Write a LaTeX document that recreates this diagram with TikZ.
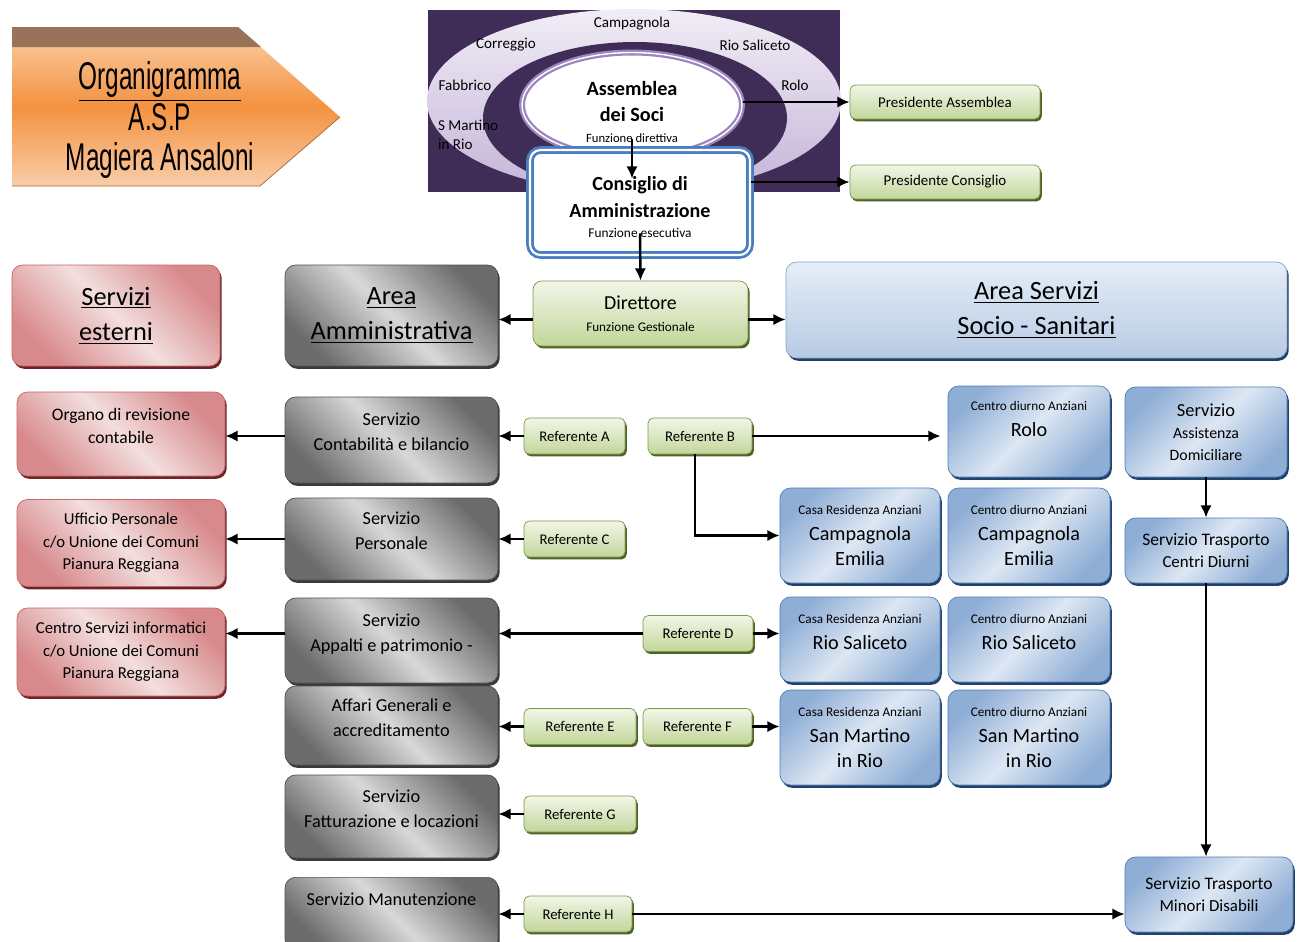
\documentclass[tikz,border=0pt]{standalone}
\usepackage{fontspec}
\setmainfont{Carlito}
\newfontfamily\titlefont[FakeStretch=0.63]{Liberation Sans}
\usetikzlibrary{positioning,arrows.meta,shadows,shapes.geometric}
\definecolor{bgpurple}{HTML}{3F2D58}
\definecolor{ringtop}{HTML}{F1EDF6}
\definecolor{ringbot}{HTML}{C4B4D8}
\definecolor{asmline}{HTML}{9C86BE}
\definecolor{consline}{HTML}{4A7EC0}
\definecolor{orangetop}{HTML}{FAD0AA}
\definecolor{orangemid}{HTML}{F39240}
\definecolor{orangebot}{HTML}{F9CDA8}
\definecolor{bevelbrown}{HTML}{98735A}
\definecolor{pinkdark}{HTML}{D7898B}
\definecolor{pinklight}{HTML}{F3DEDE}
\definecolor{pinkline}{HTML}{C86466}
\definecolor{pinkshadow}{HTML}{6E2426}
\definecolor{graydark}{HTML}{6C6C6C}
\definecolor{graylight}{HTML}{D8D8D8}
\definecolor{grayline}{HTML}{505050}
\definecolor{grayshadow}{HTML}{3A3A3A}
\definecolor{greentop}{HTML}{F2F6E8}
\definecolor{greenbot}{HTML}{C2D69A}
\definecolor{greenline}{HTML}{7B9A45}
\definecolor{greenshadow}{HTML}{4E6128}
\definecolor{bluedark}{HTML}{8FAED6}
\definecolor{bluelight}{HTML}{DDE7F3}
\definecolor{blueline}{HTML}{4F7FB9}
\definecolor{blueshadow}{HTML}{22416A}
\definecolor{areatop}{HTML}{E5EDF7}
\definecolor{areabot}{HTML}{B7CBE4}
\newcommand{\fhead}{\fontsize{7.5}{9.5}\selectfont}
\newcommand{\fbig}{\fontsize{11.5}{14.5}\selectfont}

\begin{document}
\begin{tikzpicture}[
    x=0.02cm,y=-0.02cm,
    arr/.style={-{Latex[length=7pt,width=6.5pt]},line width=1.4pt,black},
    box/.style={rectangle,rounded corners=6pt,align=center,inner sep=2pt},
    lift/.style={text depth=0.32cm},
    pinkbox/.style={box,draw=pinkline,top color=pinkdark,bottom color=pinkdark,
      middle color=pinklight,shading angle=135,minimum width=4.16cm,
      drop shadow={shadow xshift=1pt,shadow yshift=-1.6pt,fill=pinkshadow,opacity=1},
      font=\fontsize{10}{13.5}\selectfont},
    graybox/.style={box,draw=grayline,top color=graydark,bottom color=graydark,
      middle color=graylight,shading angle=135,minimum width=4.26cm,
      drop shadow={shadow xshift=1pt,shadow yshift=-1.6pt,fill=grayshadow,opacity=1},
      font=\fontsize{10.4}{14.2}\selectfont},
    refbox/.style={box,rounded corners=3pt,draw=greenline,top color=greentop,
      bottom color=greenbot,minimum height=0.72cm,
      drop shadow={shadow xshift=1pt,shadow yshift=-1.4pt,fill=greenshadow,opacity=1},
      font=\fontsize{8.4}{10}\selectfont},
    bluebox/.style={box,draw=blueline,top color=bluedark,bottom color=bluedark,
      middle color=bluelight,shading angle=45,
      drop shadow={shadow xshift=1pt,shadow yshift=-1.6pt,fill=blueshadow,opacity=1},
      font=\fbig},
    areatitle/.style={font=\fontsize{15}{20}\selectfont},
    ringlabel/.style={font=\fontsize{8.6}{11}\selectfont,inner sep=1pt},
  ]
  \fill[white] (0,0) rectangle (1300,941);
  \useasboundingbox (0,0) rectangle (1300,941);

  % titolo
  \shade[top color=orangetop,bottom color=orangebot,middle color=orangemid]
    (12,27) -- (238,27) -- (340,117) -- (260,186) -- (12,186) -- cycle;
  \fill[bevelbrown] (12,27) -- (238,27) -- (261,47) -- (12,47) -- cycle;
  \draw[orangemid!70!black,thin] (340,117) -- (260,186) -- (12,186);
  \node[font=\titlefont\fontsize{22}{22.8}\selectfont,align=center] (titolo) at (160,120)
    {\underline{Organigramma}\\A.S.P\\Magiera Ansaloni};

  % assemblea
  \fill[bgpurple] (428,10) rectangle (840,192);
  \shade[top color=ringtop,bottom color=ringbot] (634,101) ellipse (207 and 92);
  \fill[bgpurple] (635,118) ellipse (152 and 76);
  \node[ellipse,fill=white,draw=asmline,line width=1.3pt,double=white,double distance=0.8pt,
    minimum width=4.4cm,minimum height=2.1cm] (asm) at (632,105) {};
  \node[align=center,font=\bfseries\fontsize{11.5}{14.8}\selectfont] (asmtxt) at (632,112)
    {Assemblea\\dei Soci\\[-3pt]{\mdseries\fontsize{7.2}{9}\selectfont Funzione direttiva}};
  \node[ringlabel] (lcamp) at (632,24) {Campagnola};
  \node[ringlabel] (lcorr) at (506,45) {Correggio};
  \node[ringlabel] (lrio) at (755,45) {Rio Saliceto};
  \node[ringlabel] (lfab) at (465,85) {Fabbrico};
  \node[ringlabel] (lrolo) at (795,85) {Rolo};
  \node[ringlabel,align=left,anchor=west] (lsm) at (436,135) {S Martino\\in Rio};

  \node[box,fill=white,draw=consline,line width=1.6pt,double=white,double distance=1.2pt,
    minimum width=4.4cm,minimum height=2.1cm,
    drop shadow={shadow xshift=1pt,shadow yshift=-1.6pt,fill=blueshadow,opacity=1},
    font=\bfseries\fontsize{11.4}{15.2}\selectfont] (cons) at (640,202.5)
    {\rule{0pt}{13pt}Consiglio di\\Amministrazione\\[-4pt]{\mdseries\fontsize{7.6}{9}\selectfont Funzione esecutiva}};

  \node[refbox,minimum width=3.8cm,minimum height=0.68cm,font=\fontsize{8.5}{10}\selectfont]
    (presA) at (945,102) {Presidente Assemblea};
  \node[refbox,minimum width=3.8cm,minimum height=0.68cm,font=\fontsize{8.5}{10}\selectfont]
    (presC) at (945,182) {Presidente Consiglio};
  \node[refbox,rounded corners=5pt,minimum width=4.3cm,minimum height=1.3cm,
    font=\fontsize{11.3}{12.5}\selectfont] (dir) at (640.5,313.5)
    {Direttore\\{\fontsize{7.5}{9}\selectfont Funzione Gestionale}};

  % aree
  \node[pinkbox,areatitle,minimum height=2.02cm] (sest) at (116,315.5)
    {\underline{Servizi}\\\underline{esterni}};
  \node[graybox,areatitle,minimum height=2.02cm] (aam) at (391.5,315.5)
    {\underline{Area}\\\underline{Amministrativa}};
  \node[box,draw=blueline!70,top color=areatop,bottom color=areabot,areatitle,
    minimum width=10.02cm,minimum height=1.92cm,
    drop shadow={shadow xshift=1pt,shadow yshift=-1.6pt,fill=blueshadow,opacity=1}]
    (ass) at (1036.5,310) {\underline{Area Servizi}\\\underline{Socio - Sanitari}};

  % servizi esterni
  \node[pinkbox,lift,minimum height=1.68cm] (org) at (121,434) {Organo di revisione\\contabile};
  \node[pinkbox,minimum height=1.74cm,font=\fontsize{9.5}{12.8}\selectfont] (uff) at (121,543)
    {Ufficio Personale\\c/o Unione dei Comuni\\Pianura Reggiana};
  \node[pinkbox,minimum height=1.76cm,font=\fontsize{9.5}{12.8}\selectfont] (csi) at (121,652)
    {Centro Servizi informatici\\c/o Unione dei Comuni\\Pianura Reggiana};

  % area amministrativa
  \node[graybox,lift,minimum height=1.72cm] (scb) at (391.5,440) {Servizio\\Contabilità e bilancio};
  \node[graybox,lift,minimum height=1.64cm] (spe) at (391.5,539) {Servizio\\Personale};
  \node[graybox,lift,minimum height=1.70cm] (sap) at (391.5,640.5) {Servizio\\Appalti e patrimonio -};
  \node[graybox,lift,minimum height=1.58cm] (sag) at (391.5,725.5) {Affari Generali e\\accreditamento};
  \node[graybox,lift,minimum height=1.66cm] (sfl) at (391.5,816.5) {Servizio\\Fatturazione e locazioni};
  \node[graybox,anchor=north,inner ysep=0pt,text height=0.56cm,text depth=0.9cm] (sma)
    at (391.5,877) {Servizio Manutenzione};

  % referenti
  \node[refbox,minimum width=2.02cm] (refA) at (574.5,436) {Referente A};
  \node[refbox,minimum width=2.08cm] (refB) at (700,436) {Referente B};
  \node[refbox,minimum width=2.02cm] (refC) at (574.5,539) {Referente C};
  \node[refbox,minimum width=2.2cm] (refD) at (698,633.5) {Referente D};
  \node[refbox,minimum width=2.24cm] (refE) at (580,726.5) {Referente E};
  \node[refbox,minimum width=2.18cm] (refF) at (697.5,726.5) {Referente F};
  \node[refbox,minimum width=2.24cm] (refG) at (580,814) {Referente G};
  \node[refbox,minimum width=2.16cm] (refH) at (578,914) {Referente H};

  % area servizi socio-sanitari
  \node[bluebox,minimum width=3.24cm,minimum height=1.82cm] (cdrolo) at (1029,431.5)
    {{\fhead Centro diurno Anziani}\\Rolo\\\mbox{}};
  \node[bluebox,minimum width=3.24cm,minimum height=1.8cm,font=\fontsize{9}{12.5}\selectfont]
    (sad) at (1206,432) {{\fontsize{10.5}{12}\selectfont Servizio}\\Assistenza\\Domiciliare};
  \node[bluebox,minimum width=3.2cm,minimum height=1.9cm] (cracamp) at (860,535.5)
    {{\fhead Casa Residenza Anziani}\\Campagnola\\Emilia};
  \node[bluebox,minimum width=3.24cm,minimum height=1.9cm] (cdcamp) at (1029,535.5)
    {{\fhead Centro diurno Anziani}\\Campagnola\\Emilia};
  \node[bluebox,minimum width=3.24cm,minimum height=1.3cm,font=\fontsize{9.6}{12.8}\selectfont]
    (stcd) at (1206,550.5) {{\fontsize{10}{12}\selectfont Servizio Trasporto}\\Centri Diurni};
  \node[bluebox,minimum width=3.2cm,minimum height=1.7cm] (crario) at (860,639.5)
    {{\fhead Casa Residenza Anziani}\\Rio Saliceto\\[-6pt]\mbox{}};
  \node[bluebox,minimum width=3.24cm,minimum height=1.7cm] (cdrio) at (1029,639.5)
    {{\fhead Centro diurno Anziani}\\Rio Saliceto\\[-6pt]\mbox{}};
  \node[bluebox,minimum width=3.2cm,minimum height=1.9cm] (crasm) at (860,737.5)
    {{\fhead Casa Residenza Anziani}\\San Martino\\in Rio};
  \node[bluebox,minimum width=3.24cm,minimum height=1.9cm] (cdsm) at (1029,737.5)
    {{\fhead Centro diurno Anziani}\\San Martino\\in Rio};
  \node[bluebox,minimum width=3.36cm,minimum height=1.5cm,font=\fontsize{9.6}{12.8}\selectfont]
    (stmd) at (1209,894.5) {{\fontsize{10}{12}\selectfont Servizio Trasporto}\\Minori Disabili};

  % collegamenti
  \draw[arr] (asm.east |- presA.west) -- (presA.west);
  \draw[arr] ([yshift=0.4cm]asm.south) -- ([yshift=-0.6cm]asm.south |- cons.north);
  \draw[arr] (cons.east |- presC.west) -- (presC.west);
  \draw[arr] ([yshift=0.46cm]cons.south) -- (dir.north);
  \draw[arr] ([yshift=-0.12cm]dir.west) -- ([yshift=-0.12cm]dir.west -| aam.east);
  \draw[arr] ([yshift=-0.12cm]dir.east) -- ([yshift=-0.12cm]dir.east -| ass.west);
  \draw[arr] (scb.west |- refA.west) -- (org.east |- refA.west);
  \draw[arr] (spe.west) -- (spe.west -| uff.east);
  \draw[arr] (refD.west -| sap.west) -- (refD.west -| csi.east);
  \draw[arr] (refA.west) -- (refA.west -| scb.east);
  \draw[arr] (refC.west) -- (refC.west -| spe.east);
  \draw[arr] (refD.west) -- (refD.west -| sap.east);
  \draw[arr] (refE.west) -- (refE.west -| sag.east);
  \draw[arr] (refG.west) -- (refG.west -| sfl.east);
  \draw[arr] (refH.west) -- (refH.west -| sma.east);
  \draw[arr,shorten >=4pt] (refB.east) -- (refB.east -| cdrolo.west);
  \draw[arr] ([xshift=-0.1cm]refB.south) |- (cracamp.west);
  \draw[arr] (refD.east) -- (refD.east -| crario.west);
  \draw[arr] (refF.east) -- (refF.east -| crasm.west);
  \draw[arr] (refH.east) -- (refH.east -| stmd.west);
  \draw[arr] (sad.south) -- (stcd.north);
  \draw[arr] (stcd.south) -- (stcd.south |- stmd.north);
\end{tikzpicture}
\end{document}
